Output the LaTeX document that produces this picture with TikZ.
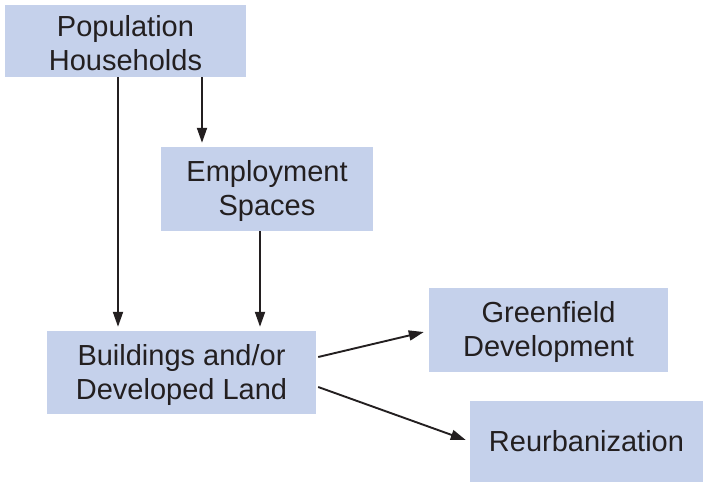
\documentclass[tikz,border=0pt]{standalone}
\usepackage{fontspec}
\setmainfont{Liberation Sans}
\usetikzlibrary{arrows.meta}
\definecolor{boxblue}{HTML}{C5D1EB}
\definecolor{ink}{HTML}{231F20}
\newcommand{\lowtext}{\rule{0pt}{26pt}}
\tikzset{
    blockbox/.style={fill=boxblue, text=ink, align=center, inner sep=0pt,
        font=\fontsize{29}{34}\selectfont},
    flow/.style={draw=ink, line width=1.9pt,
        -{Triangle[length=15pt,width=10pt]}, shorten >=4pt},
}
\begin{document}
\begin{tikzpicture}[x=1pt, y=-1pt]
    \useasboundingbox (0,0) rectangle (704,483);
    \node[blockbox, minimum width=241pt, minimum height=72pt] (pop) at (125.5,41) {\lowtext Population\\Households};
    \node[blockbox, minimum width=212pt, minimum height=84pt] (emp) at (267,189) {\lowtext Employment\\Spaces};
    \node[blockbox, minimum width=269pt, minimum height=83pt] (bld) at (181.5,372.5) {\lowtext Buildings and/or\\Developed Land};
    \node[blockbox, minimum width=239pt, minimum height=84pt] (grn) at (548.5,330) {\lowtext Greenfield\\Development};
    \node[blockbox, minimum width=233pt, minimum height=81pt] (reu) at (586.5,441.5) {Reurbanization};
    \draw[flow] ([xshift=-7.5pt]pop.south) -- ([xshift=-7.5pt]pop.south |- bld.north);
    \draw[flow] ([xshift=76.5pt]pop.south) -- ([xshift=76.5pt]pop.south |- emp.north);
    \draw[flow] ([xshift=-7pt]emp.south) -- ([xshift=-7pt]emp.south |- bld.north);
    \draw[flow, shorten >=0pt] ([shift={(2,-15.5)}]bld.east) -- ([shift={(-5,2)}]grn.west);
    \draw[flow, shorten >=0pt] ([shift={(2,14.5)}]bld.east) -- ([shift={(-4,-1.5)}]reu.west);
\end{tikzpicture}
\end{document}
